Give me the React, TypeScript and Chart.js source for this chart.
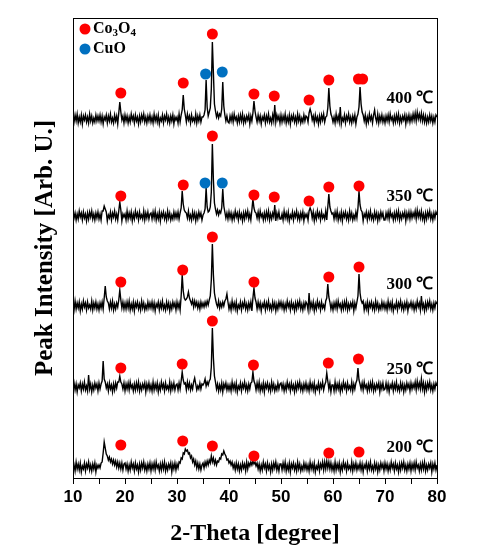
import React, { useEffect, useRef } from 'react';
import { Chart, registerables } from 'chart.js';

Chart.register(...registerables);

// 2-theta sampling grid of the recorded patterns
const THETA_START = 10;
const THETA_STEP = 0.2;

const TEMPERATURES = ['200 ℃', '250 ℃', '300 ℃', '350 ℃', '400 ℃'];
// vertical stacking offset of each pattern (arb. units)
const OFFSETS = [11, 91, 172, 262, 359];
// height (arb. units) at which each temperature label sits
const LABEL_Y = [30, 108, 193, 281, 379];

// intensities above baseline, one value per 0.2 degree from 10 to 80
const t200 = [
  -3,2,-4,5,-2,3,-3,4,-5,1,-2,4,-4,3,-1,5,-3,2,-4,3,-2,4,-5,2,-1,
  2,-1,4,5,14,25,19,13,11,7,10,5,8,3,7,2,6,0,5,-1,4,-2,4,-3,3,
  4,-2,3,-4,2,-3,5,-1,3,-4,4,-2,2,-5,3,-3,4,-1,5,-3,2,-4,3,-2,4,
  -4,3,-2,4,-3,5,-1,2,-4,3,-3,4,-2,5,-4,2,-3,3,-1,4,-5,3,-2,4,-3,
  3,-1,5,4,9,8,14,13,18,16,17,13,14,9,11,5,8,2,6,-1,4,-2,3,-3,2,
  4,-1,5,1,6,2,7,4,11,5,9,3,7,2,6,5,9,8,13,12,16,13,11,7,8,
  4,6,2,5,-1,3,-3,4,-2,3,-4,2,-3,4,-1,3,-4,5,-2,4,1,5,2,6,3,
  5,1,4,-2,3,-4,2,-3,5,-1,3,-4,4,-2,2,-5,3,-3,4,-1,5,-3,2,-4,3,
  3,-3,4,-2,5,-4,2,-3,4,-5,3,-1,4,-3,2,-4,5,-2,3,-4,1,-3,4,-2,3,
  -3,2,-4,5,-2,3,-3,4,-5,1,-2,4,-4,3,-1,5,-3,5,-2,6,-1,5,-2,4,-3,
  2,-4,5,-3,3,-2,4,-5,2,-3,5,-1,3,-4,4,-2,1,-3,5,-4,3,-2,4,-3,2,
  -2,4,-3,3,-5,2,-1,4,-4,3,-2,5,-3,1,-4,4,-2,3,-5,2,-3,4,-1,3,-4,
  4,-2,3,-4,2,-3,5,-1,3,-4,4,-2,2,-5,3,-3,4,-1,5,-3,2,-4,3,-2,4,
  -4,3,-2,4,-3,5,-1,2,-4,3,-3,4,-2,5,-4,2,-3,3,-1,4,-5,3,-2,4,-3,
  2,
];

const t250 = [
  -2,4,-3,3,-5,2,-1,4,-4,3,-2,5,-3,1,-4,12,-2,3,-5,2,-3,4,-1,3,-4,
  4,-2,3,6,26,8,5,-1,3,-4,4,-2,2,-5,3,-3,4,-1,5,5,11,5,3,-2,4,
  -4,3,-2,4,-3,5,-1,2,-4,3,-3,4,-2,5,-4,2,-3,3,-1,4,-5,3,-2,4,-3,
  2,-4,5,-3,3,-2,4,-5,2,-3,5,-1,3,-4,4,-2,1,-3,5,-4,3,-2,4,-3,2,
  3,-3,4,-2,6,15,7,3,4,-3,5,-1,4,-3,2,-2,5,9,3,-3,1,-2,4,-2,3,
  2,4,8,1,5,2,6,8,20,59,29,11,5,-2,3,-4,2,-3,4,-5,3,-1,4,-3,2,
  -3,2,-4,5,-2,3,-3,4,-5,1,-2,4,-4,3,-1,5,-3,2,-4,3,-2,4,5,15,6,
  3,-3,4,-2,5,-4,2,-3,4,-5,3,-1,4,-3,2,-4,5,-2,3,-4,1,-3,4,-2,3,
  4,-2,3,-4,2,-3,5,-1,3,-4,4,-2,2,-5,3,-3,4,-1,5,-3,2,-4,3,-2,4,
  -3,2,-4,5,-2,3,-3,4,-5,1,-2,4,-4,3,-1,5,-3,2,5,14,6,-2,4,-5,2,
  2,-4,5,-3,3,-2,4,-5,2,-3,5,-1,3,-4,4,-2,1,-3,5,-4,3,-2,4,7,19,
  7,3,-2,4,-3,5,-1,2,-4,3,-3,4,-2,5,-4,2,-3,3,-1,4,-5,3,-2,4,-3,
  -2,4,-3,3,-5,2,-1,4,-4,3,-2,5,-3,1,-4,4,-2,3,-5,2,-3,4,-1,3,-4,
  4,-2,3,-1,5,-3,6,-1,4,-2,8,-2,4,-5,3,-3,4,-1,5,-3,2,-4,3,-2,4,
  1,
];

const t300 = [
  2,-4,5,-3,3,-2,4,-5,2,-3,5,-1,3,-4,4,-2,1,-3,5,-4,3,-2,4,-3,2,
  -4,3,-2,4,-3,8,20,9,5,3,-3,4,-2,5,-4,2,-3,3,-1,6,16,6,-2,4,-3,
  3,-3,4,-2,5,-4,2,-3,4,-5,3,-1,4,-3,2,-4,5,-2,3,-4,1,-3,4,-2,3,
  -2,4,-3,3,-5,2,-1,4,-4,3,-2,5,-3,1,-4,4,-2,3,-5,2,-3,4,-1,3,-4,
  4,-2,3,-4,10,31,15,8,6,7,9,14,8,5,2,6,-1,5,0,4,-2,3,-3,4,-1,
  3,-1,4,0,5,1,6,10,26,62,31,13,7,2,-1,5,-2,3,-1,4,0,5,7,12,4,
  -3,2,-4,5,-2,3,-3,4,-5,1,-2,4,-4,3,-1,5,-3,2,-4,3,-2,4,-5,8,18,
  8,4,-3,4,-2,3,-5,2,-1,4,-4,3,-2,5,-3,1,-4,4,-2,3,-5,2,-3,4,-1,
  4,-2,3,-4,2,-3,5,-1,3,-4,4,-2,2,-5,3,-3,4,-1,5,-3,2,-4,3,-2,4,
  2,-4,13,-3,3,-2,4,-5,2,-3,5,-1,3,-4,4,-2,1,-3,5,8,22,9,4,-3,2,
  -4,3,-2,4,-3,5,-1,2,-4,3,-3,4,-2,5,-4,2,-3,3,-1,4,-5,3,-2,4,10,
  32,13,6,3,5,-4,2,-3,4,-5,3,-1,4,-3,2,-4,5,-2,3,-4,1,-3,4,-2,3,
  -3,2,-4,5,-2,3,-3,4,-5,1,-2,4,-4,3,-1,5,-3,2,-4,3,-2,4,-5,2,-1,
  4,-2,3,-4,2,-3,5,-1,3,-4,10,-2,2,-5,3,-3,4,-1,5,-3,2,-4,3,-2,4,
  2,
];

const t350 = [
  4,-2,3,-4,2,-3,5,-1,3,-4,4,-2,2,-5,3,-3,4,-1,5,-3,2,-4,3,-2,4,
  -3,2,-4,5,5,10,7,4,-5,1,-2,4,-4,3,-1,5,-3,2,-4,5,14,6,-5,2,-1,
  2,-4,5,-3,3,-2,4,-5,2,-3,5,-1,3,-4,4,-2,1,-3,5,-4,3,-2,4,-3,2,
  3,-3,4,-2,5,-4,2,-3,4,-5,3,-1,4,-3,2,-4,5,-2,3,-4,1,-3,4,-2,3,
  -2,4,-3,3,8,25,12,6,4,3,-2,5,-3,1,-4,4,-2,3,-5,2,-3,4,-1,3,-4,
  1,3,7,28,9,4,5,9,24,72,36,13,7,2,6,1,5,3,8,27,10,4,-2,3,-3,
  4,-2,3,-4,2,-3,5,-1,3,-4,4,-2,2,-5,3,-3,4,-1,5,-3,2,-4,6,17,8,
  4,3,-2,4,-3,5,-1,2,-4,3,-3,4,-2,5,-4,2,-3,3,-1,11,-5,3,-2,4,-3,
  -3,2,-4,5,-2,3,-3,4,-5,1,-2,4,-4,3,-1,5,-3,2,-4,3,-2,4,-5,2,-1,
  2,-4,5,8,5,-2,4,-5,2,-3,5,-1,3,-4,4,-2,1,-3,5,-4,9,22,9,5,2,
  3,-3,4,-2,5,-4,2,-3,4,-5,3,-1,4,-3,2,-4,5,-2,3,-4,1,-3,4,-2,8,
  25,11,6,4,-5,2,-1,4,-4,3,-2,5,-3,1,-4,4,-2,3,-5,2,-3,4,-1,3,-4,
  -4,3,-2,4,-3,5,-1,2,-4,3,-3,4,-2,5,-4,2,-3,3,-1,4,-5,3,-2,4,-3,
  4,-2,3,-1,5,-3,6,-1,4,-2,5,-3,2,-5,3,-3,4,-1,5,-3,2,-4,3,-2,4,
  1,
];

const t400 = [
  3,-3,4,-2,5,-4,2,-3,4,-5,3,-1,4,-3,2,-4,5,-2,3,-4,1,-3,4,-2,3,
  -2,4,-3,3,-5,2,-1,4,-4,3,-2,5,-3,1,-4,4,-2,3,-5,6,17,7,-1,3,-4,
  4,-2,3,-4,2,-3,5,-1,3,-4,4,-2,2,-5,3,-3,4,-1,5,-3,2,-4,3,-2,4,
  -3,2,-4,5,-2,3,-3,4,-5,1,-2,4,-4,3,-1,5,-3,2,-4,3,-2,4,-5,2,-1,
  2,-4,5,-3,4,9,24,10,4,-3,5,-1,3,-4,4,-2,1,-3,5,-4,3,-2,4,-3,2,
  2,4,9,39,12,3,7,11,30,77,46,15,8,2,6,1,5,3,10,37,13,4,-2,3,-3,
  -4,3,-2,4,-3,5,-1,2,-4,3,-3,4,-2,5,-4,2,-3,3,-1,4,-5,3,-2,6,18,
  8,2,-3,4,-2,3,-5,2,-1,4,-4,3,-2,5,-3,1,-4,4,-2,14,-3,4,-1,3,-4,
  4,-3,3,-2,5,-4,2,-3,4,-5,3,-1,4,-3,2,-4,5,-2,3,-4,1,-3,4,-2,3,
  2,-3,6,10,6,-1,3,-4,4,-2,2,-5,3,-3,4,-1,5,-3,2,3,11,31,13,5,2,
  -3,2,-4,5,-2,3,-3,12,-5,1,-2,4,-4,3,-1,5,-3,2,-4,3,-2,4,-5,2,5,
  12,32,15,7,4,-2,4,-5,2,-3,5,-1,3,-4,4,9,1,-3,5,-4,3,-2,4,-3,2,
  -4,3,-2,4,-3,5,-1,2,-4,3,-3,4,-2,5,-4,2,-3,3,-1,4,-5,3,-2,4,-3,
  3,-2,5,-1,6,-2,7,0,5,-1,6,-2,4,-3,3,-4,2,-3,4,-2,3,-4,2,-3,4,
  2,
];

const PATTERNS = [t200, t250, t300, t350, t400];

// peak markers [2-theta, height] per pattern
const CO3O4_200 = [[19.2, 33], [31.1, 37], [36.8, 32], [44.8, 22], [59.2, 25], [65.0, 26]];
const CO3O4_250 = [[19.2, 110], [31.0, 114], [36.8, 157], [44.7, 113], [59.1, 115], [64.9, 119]];
const CO3O4_300 = [[19.2, 196], [31.1, 208], [36.8, 241], [44.8, 196], [59.2, 201], [65.0, 211]];
const CO3O4_350 = [[19.2, 282], [31.2, 293], [36.8, 342], [44.8, 283], [48.7, 281], [55.4, 277], [59.2, 291], [65.0, 292]];
const CO3O4_400 = [[19.2, 385], [31.2, 395], [36.8, 444], [44.8, 384], [48.7, 382], [55.4, 378], [59.2, 398], [64.9, 399], [65.7, 399]];
const CUO_350 = [[35.4, 295], [38.7, 295]];
const CUO_400 = [[35.5, 404], [38.7, 406]];

const X_TICK_MIN = 10;
const X_TICK_MAX = 80;
const X_TICK_STEP = 5;

const RED = '#ff0000';
const BLUE = '#0070c0';
const SERIF = "'Times New Roman', 'Liberation Serif', serif";
const SANS = "Arial, 'Liberation Sans', sans-serif";

const toPoints = (arr: number[][]) => arr.map(([x, y]) => ({ x, y }));

const overlayPlugin = {
  id: 'overlay',
  afterDraw(chart: any) {
    const { ctx, chartArea: a, scales } = chart;
    const xs = scales.x;
    const ys = scales.y;
    ctx.save();
    // frame
    ctx.strokeStyle = '#000';
    ctx.lineWidth = 1;
    ctx.strokeRect(Math.round(a.left) + 0.5, Math.round(a.top) + 0.5, Math.round(a.right - a.left), Math.round(a.bottom - a.top));

    // temperature labels
    ctx.fillStyle = '#000';
    ctx.font = `bold 17px ${SERIF}`;
    ctx.textAlign = 'right';
    ctx.textBaseline = 'middle';
    TEMPERATURES.forEach((t, i) => {
      ctx.fillText(t, xs.getPixelForValue(79.3), ys.getPixelForValue(LABEL_Y[i]));
    });

    // legend
    const lx = a.left + 12;
    const items = [
      { color: RED, parts: [['Co', false], ['3', true], ['O', false], ['4', true]] },
      { color: BLUE, parts: [['CuO', false]] },
    ];
    items.forEach((it, k) => {
      const cy = a.top + 11 + k * 20;
      ctx.beginPath();
      ctx.fillStyle = it.color;
      ctx.arc(lx, cy, 5.5, 0, Math.PI * 2);
      ctx.fill();
      ctx.fillStyle = '#000';
      ctx.textAlign = 'left';
      ctx.textBaseline = 'middle';
      let tx = lx + 8;
      it.parts.forEach(([txt, sub]) => {
        ctx.font = sub ? `bold 11px ${SERIF}` : `bold 16px ${SERIF}`;
        ctx.fillText(txt as string, tx, sub ? cy + 4 : cy);
        tx += ctx.measureText(txt as string).width;
      });
    });
    ctx.restore();
  },
};

export default function App() {
  const ref = useRef<HTMLCanvasElement>(null);

  useEffect(() => {
    if (!ref.current) return;
    const lineSets = PATTERNS.map((p, k) => ({
      type: 'line' as const,
      label: TEMPERATURES[k],
      data: p.map((v, i) => ({ x: THETA_START + i * THETA_STEP, y: OFFSETS[k] + v })),
      borderColor: '#000',
      borderWidth: 1.4,
      pointRadius: 0,
      tension: 0,
      fill: false,
      order: 2,
    }));
    const marker = (arr: number[][], color: string, label: string) => ({
      type: 'line' as const,
      label,
      data: toPoints(arr),
      showLine: false,
      pointRadius: 5.5,
      pointBackgroundColor: color,
      pointBorderWidth: 0,
      borderColor: color,
      order: 1,
    });
    const markerSets = [
      marker(CO3O4_200, RED, 'Co3O4'),
      marker(CO3O4_250, RED, 'Co3O4'),
      marker(CO3O4_300, RED, 'Co3O4'),
      marker(CO3O4_350, RED, 'Co3O4'),
      marker(CO3O4_400, RED, 'Co3O4'),
      marker(CUO_350, BLUE, 'CuO'),
      marker(CUO_400, BLUE, 'CuO'),
    ];

    const chart = new Chart(ref.current, {
      type: 'line',
      data: { datasets: [...markerSets, ...lineSets] as any },
      options: {
        responsive: false,
        animation: false,
        events: [],
        layout: { padding: { left: 0, right: 48, top: 18, bottom: 0 } },
        plugins: {
          legend: { display: false },
          tooltip: { enabled: false },
        },
        scales: {
          x: {
            type: 'linear',
            min: X_TICK_MIN,
            max: X_TICK_MAX,
            afterFit: (s: any) => { s.height = 70; },
            ticks: {
              stepSize: X_TICK_STEP,
              autoSkip: false,
              maxRotation: 0,
              padding: 3,
              color: '#000',
              font: { family: SANS, size: 17, weight: 'bold' },
              callback: (v: any) => (Number(v) % 10 === 0 ? String(v) : ''),
            },
            grid: { drawOnChartArea: false, drawTicks: true, tickLength: 6, color: '#000' },
            border: { display: false },
            title: {
              display: true,
              text: '2-Theta [degree]',
              color: '#000',
              font: { family: SERIF, size: 24, weight: 'bold' },
              padding: { top: 0, bottom: 0 },
            },
          },
          y: {
            type: 'linear',
            min: 0,
            max: 460,
            afterFit: (s: any) => { s.width = 73; },
            ticks: { display: false },
            grid: { display: false, drawTicks: false },
            border: { display: false },
            title: {
              display: true,
              text: 'Peak Intensity [Arb. U.]',
              color: '#000',
              font: { family: SERIF, size: 25, weight: 'bold' },
              padding: { top: 31, bottom: 0 },
            },
          },
        },
      },
      plugins: [overlayPlugin],
    });
    return () => chart.destroy();
  }, []);

  return (
    <div style={{ position: 'absolute', left: 0, top: 0, width: 485, height: 548, background: '#fff' }}>
      <canvas ref={ref} width={485} height={548} />
    </div>
  );
}
